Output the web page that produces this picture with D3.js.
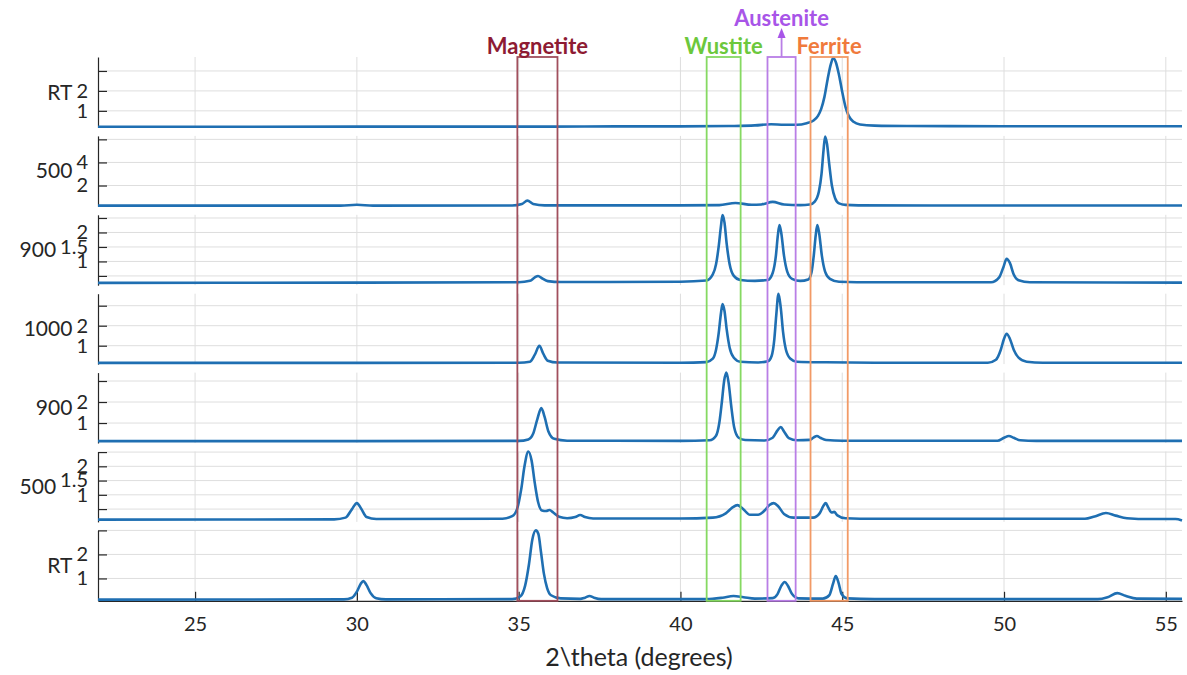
<!DOCTYPE html>
<html><head><meta charset="utf-8">
<script src="https://cdn.jsdelivr.net/npm/d3@7"></script>
<style>body{margin:0;background:#fff;} text{font-family:Lato,"Open Sans",sans-serif;}</style>
</head><body><svg id="c" width="1187" height="675"></svg>
<script>
// ---------- data ----------
const panelNames = ["RT", "500", "900", "1000", "900", "500", "RT"];
const yMin = [0.17, 0.2, 0.18, 0.08, 0.05, 0.05, 0.07];
const yMax = [3.7, 6.3, 2.61, 3.6, 3.4, 2.52, 3.0];
const yTickVals = [[1, 2, 3], [2, 4, 6], [0.5, 1, 1.5, 2, 2.5], [1, 2, 3], [1, 2, 3], [0.5, 1, 1.5, 2, 2.5], [1, 2, 3]];
const yTickLabels = [["1", "2", ""], ["2", "4", ""], ["", "1", "1.5", "2", ""], ["1", "2", ""], ["1", "2", ""], ["", "1", "1.5", "2", ""], ["1", "2", ""]];
const xTicks = [25, 30, 35, 40, 45, 50, 55];
const xDomain = [22, 55.5];
const xLabel = "2\\theta (degrees)";

const specRTtop = [[22,0.2],[26,0.2],[30,0.21],[34,0.21],[36,0.21],[38,0.22],[40,0.22],[41.5,0.24],[42.3,0.27],[42.8,0.33],[43.2,0.3],[43.6,0.3],[43.9,0.38],[44.1,0.5],[44.25,0.75],[44.35,1.1],[44.45,1.7],[44.55,2.6],[44.65,3.35],[44.72,3.65],[44.8,3.45],[44.9,2.8],[45.0,1.95],[45.1,1.2],[45.2,0.75],[45.35,0.45],[45.55,0.32],[46,0.26],[47,0.24],[50,0.23],[55.5,0.23]];
const spec500top = [[22,0.26],[29.5,0.26],[30,0.33],[30.5,0.26],[34.8,0.27],[35.1,0.4],[35.27,0.69],[35.45,0.4],[35.8,0.28],[40,0.28],[41.2,0.3],[41.7,0.49],[42.2,0.33],[42.5,0.36],[42.85,0.58],[43.2,0.36],[43.7,0.3],[44.0,0.35],[44.15,0.6],[44.28,1.5],[44.36,3.0],[44.42,5.0],[44.47,6.25],[44.53,5.6],[44.6,3.8],[44.68,2.0],[44.78,0.9],[44.9,0.45],[45.1,0.32],[45.5,0.28],[50,0.27],[55.5,0.27]];
const spec900top = [[22,0.26],[30,0.27],[35,0.28],[35.35,0.33],[35.5,0.45],[35.6,0.5],[35.72,0.42],[35.9,0.32],[36.3,0.29],[40,0.3],[40.8,0.34],[41.0,0.55],[41.1,0.9],[41.18,1.5],[41.25,2.2],[41.3,2.6],[41.36,2.35],[41.43,1.6],[41.52,0.9],[41.65,0.5],[41.85,0.36],[42.3,0.33],[42.7,0.36],[42.85,0.6],[42.95,1.2],[43.01,1.9],[43.06,2.26],[43.12,1.95],[43.2,1.2],[43.3,0.65],[43.45,0.4],[43.7,0.33],[43.95,0.38],[44.05,0.62],[44.12,1.2],[44.18,1.9],[44.23,2.26],[44.29,1.95],[44.37,1.2],[44.47,0.65],[44.62,0.4],[44.9,0.3],[46,0.28],[49.6,0.28],[49.85,0.45],[49.98,0.8],[50.08,1.09],[50.18,0.95],[50.3,0.55],[50.45,0.35],[50.8,0.28],[55.5,0.27]];
const spec1000 = [[22,0.14],[30,0.14],[35,0.15],[35.35,0.2],[35.5,0.55],[35.64,0.99],[35.76,0.6],[35.9,0.25],[36.2,0.16],[40,0.15],[40.8,0.18],[41.0,0.35],[41.1,0.8],[41.18,1.6],[41.25,2.6],[41.3,3.08],[41.36,2.75],[41.43,1.8],[41.52,0.9],[41.65,0.4],[41.85,0.2],[42.4,0.16],[42.7,0.22],[42.82,0.5],[42.9,1.3],[42.96,2.5],[43.03,3.6],[43.1,2.9],[43.17,1.7],[43.26,0.8],[43.4,0.35],[43.6,0.2],[44.5,0.17],[46,0.15],[49.5,0.15],[49.75,0.3],[49.9,0.8],[50.0,1.35],[50.08,1.6],[50.18,1.35],[50.3,0.8],[50.45,0.4],[50.7,0.2],[51.2,0.15],[55.5,0.15]];
const spec900bot = [[22,0.14],[30,0.14],[35,0.15],[35.3,0.22],[35.45,0.5],[35.58,1.2],[35.7,1.71],[35.8,1.3],[35.92,0.6],[36.1,0.25],[36.5,0.16],[40,0.15],[40.9,0.18],[41.1,0.4],[41.2,1.0],[41.28,2.0],[41.35,3.0],[41.42,3.4],[41.49,2.9],[41.57,1.8],[41.66,0.8],[41.8,0.3],[42.0,0.19],[42.6,0.17],[42.85,0.3],[43.0,0.65],[43.1,0.81],[43.2,0.6],[43.35,0.28],[43.6,0.18],[44.0,0.2],[44.12,0.32],[44.22,0.38],[44.32,0.3],[44.5,0.19],[45,0.16],[49.8,0.16],[50.0,0.3],[50.15,0.38],[50.3,0.3],[50.5,0.18],[51,0.15],[55.5,0.15]];
const spec500bot = [[22,0.13],[29.3,0.14],[29.65,0.2],[29.85,0.5],[30.0,0.71],[30.13,0.52],[30.3,0.22],[30.6,0.15],[34.5,0.16],[34.8,0.25],[34.95,0.5],[35.08,1.2],[35.18,2.0],[35.3,2.52],[35.4,2.2],[35.5,1.4],[35.6,0.75],[35.72,0.45],[35.85,0.43],[35.95,0.47],[36.07,0.38],[36.25,0.23],[36.5,0.18],[36.75,0.22],[36.9,0.29],[37.05,0.22],[37.3,0.17],[40,0.17],[41.0,0.2],[41.4,0.35],[41.6,0.55],[41.76,0.64],[41.92,0.52],[42.15,0.3],[42.4,0.3],[42.6,0.45],[42.75,0.64],[42.88,0.71],[43.02,0.6],[43.2,0.33],[43.5,0.2],[44.1,0.2],[44.3,0.35],[44.42,0.62],[44.49,0.71],[44.57,0.55],[44.67,0.38],[44.75,0.4],[44.85,0.28],[45.1,0.18],[46,0.16],[52.5,0.16],[52.8,0.24],[53.15,0.36],[53.45,0.27],[53.8,0.18],[54.5,0.15],[55.3,0.15],[55.5,0.1]];
const specRTbot = [[22,0.12],[29.6,0.13],[29.85,0.2],[30.0,0.45],[30.12,0.78],[30.2,0.89],[30.3,0.72],[30.42,0.4],[30.6,0.18],[30.9,0.13],[34.8,0.14],[35.05,0.25],[35.2,0.7],[35.32,1.6],[35.42,2.6],[35.53,3.0],[35.61,2.85],[35.69,2.1],[35.78,1.2],[35.88,0.6],[36.0,0.3],[36.3,0.17],[36.9,0.15],[37.05,0.2],[37.19,0.27],[37.33,0.2],[37.55,0.14],[40.8,0.14],[41.3,0.2],[41.64,0.27],[41.95,0.22],[42.3,0.16],[42.85,0.18],[43.0,0.35],[43.12,0.7],[43.22,0.85],[43.32,0.7],[43.45,0.35],[43.65,0.17],[44.4,0.16],[44.6,0.3],[44.72,0.8],[44.8,1.1],[44.88,0.85],[44.98,0.35],[45.15,0.17],[46,0.14],[52.9,0.14],[53.2,0.22],[53.5,0.39],[53.75,0.28],[54.1,0.16],[55.5,0.15]];
const spectra = [specRTtop, spec500top, spec900top, spec1000, spec900bot, spec500bot, specRTbot];

const phaseNames = ["Magnetite", "Wustite", "Austenite", "Ferrite"];
const phaseLo = [34.96, 40.81, 42.69, 44.02];
const phaseHi = [36.2, 41.86, 43.56, 45.17];
const phaseStroke = ["#a14f5d", "#86d962", "#b97ee6", "#f29a66"];
const phaseText = ["#8e1b33", "#6cc83c", "#a855e8", "#f07a3c"];

// ---------- layout ----------
const svg = d3.select("#c");
const left = 98, right = 1182;
const top0 = 57, panelH = 70.4, step = 78.9;
const x = d3.scaleLinear().domain(xDomain).range([left, right]);
const axisCol = "#262626", gridCol = "#dedede", lineCol = "#1f6fb2";
const fontFam = "Lato, 'Open Sans', sans-serif";

const line = d3.line().x(d => x(d[0])).curve(d3.curveMonotoneX);

panelNames.forEach((name, i) => {
  const t = top0 + i * step, b = t + panelH;
  const y = d3.scaleLinear().domain([yMin[i], yMax[i]]).range([b, t]);
  const g = svg.append("g");
  // grid
  g.selectAll(".vg").data(xTicks).join("line")
    .attr("x1", d => x(d)).attr("x2", d => x(d)).attr("y1", t).attr("y2", b)
    .attr("stroke", gridCol).attr("stroke-width", 1);
  g.selectAll(".hg").data(yTickVals[i]).join("line")
    .attr("x1", left).attr("x2", right).attr("y1", d => y(d)).attr("y2", d => y(d))
    .attr("stroke", gridCol).attr("stroke-width", 1);
  // y axis
  const ax = d3.axisLeft(y).tickValues(yTickVals[i]).tickSizeInner(-9).tickSizeOuter(0)
    .tickPadding(11).tickFormat((d, k) => yTickLabels[i][k]);
  const ag = g.append("g").attr("transform", `translate(${left},0)`).call(ax);
  ag.select(".domain").attr("stroke", axisCol).attr("stroke-width", 1.2);
  ag.selectAll(".tick line").attr("stroke", axisCol).attr("stroke-width", 1.2);
  ag.selectAll(".tick text").attr("fill", axisCol).style("font-size", "20px")
    .style("font-family", fontFam).attr("x", -10);
  // panel label, placed left of the widest tick label
  let minX = Infinity;
  ag.selectAll(".tick text").each(function () {
    if (this.textContent) { const bb = this.getBBox(); minX = Math.min(minX, left + bb.x); }
  });
  g.append("text").attr("x", minX - 4).attr("y", (t + b) / 2).attr("dy", "0.35em")
    .attr("text-anchor", "end").attr("fill", axisCol).style("font-size", "21px").text(name);
  // bottom axis for last panel
  if (i === panelNames.length - 1) {
    const bx = d3.axisBottom(x).tickValues(xTicks).tickSizeInner(-9).tickSizeOuter(0).tickPadding(16);
    const bg = g.append("g").attr("transform", `translate(0,${b})`).call(bx);
    bg.select(".domain").attr("stroke", axisCol).attr("stroke-width", 1.2);
    bg.selectAll(".tick line").attr("stroke", axisCol).attr("stroke-width", 1.2);
    bg.selectAll(".tick text").attr("fill", axisCol).style("font-size", "20px")
      .style("font-family", fontFam);
    g.append("text").attr("x", 639).attr("y", 666).attr("text-anchor", "middle")
      .attr("fill", axisCol).style("font-size", "25px").text(xLabel);
  }
  // data
  g.append("path").datum(spectra[i]).attr("fill", "none").attr("stroke", lineCol)
    .attr("stroke-width", 2.6).attr("stroke-linejoin", "round")
    .attr("d", line.y(d => y(d[1])));
});

// phase boxes
const boxTop = top0, boxBot = top0 + 6 * step + panelH;
phaseNames.forEach((p, k) => {
  svg.append("rect").attr("x", x(phaseLo[k])).attr("y", boxTop)
    .attr("width", x(phaseHi[k]) - x(phaseLo[k])).attr("height", boxBot - boxTop)
    .attr("fill", "none").attr("stroke", phaseStroke[k]).attr("stroke-width", 1.8);
  const cx = (x(phaseLo[k]) + x(phaseHi[k])) / 2;
  if (p === "Austenite") {
    svg.append("line").attr("x1", cx).attr("x2", cx).attr("y1", boxTop).attr("y2", 36)
      .attr("stroke", phaseStroke[k]).attr("stroke-width", 1.8);
    svg.append("path").attr("d", `M${cx - 4},38 L${cx},28 L${cx + 4},38 Z`).attr("fill", phaseText[k]);
    svg.append("text").attr("x", cx).attr("y", 18).attr("dy", "0.35em").attr("text-anchor", "middle")
      .attr("fill", phaseText[k]).style("font-size", "22px").style("font-weight", "bold").text(p);
  } else {
    svg.append("text").attr("x", cx).attr("y", 46).attr("dy", "0.35em").attr("text-anchor", "middle")
      .attr("fill", phaseText[k]).style("font-size", "22px").style("font-weight", "bold").text(p);
  }
});
</script></body></html>
